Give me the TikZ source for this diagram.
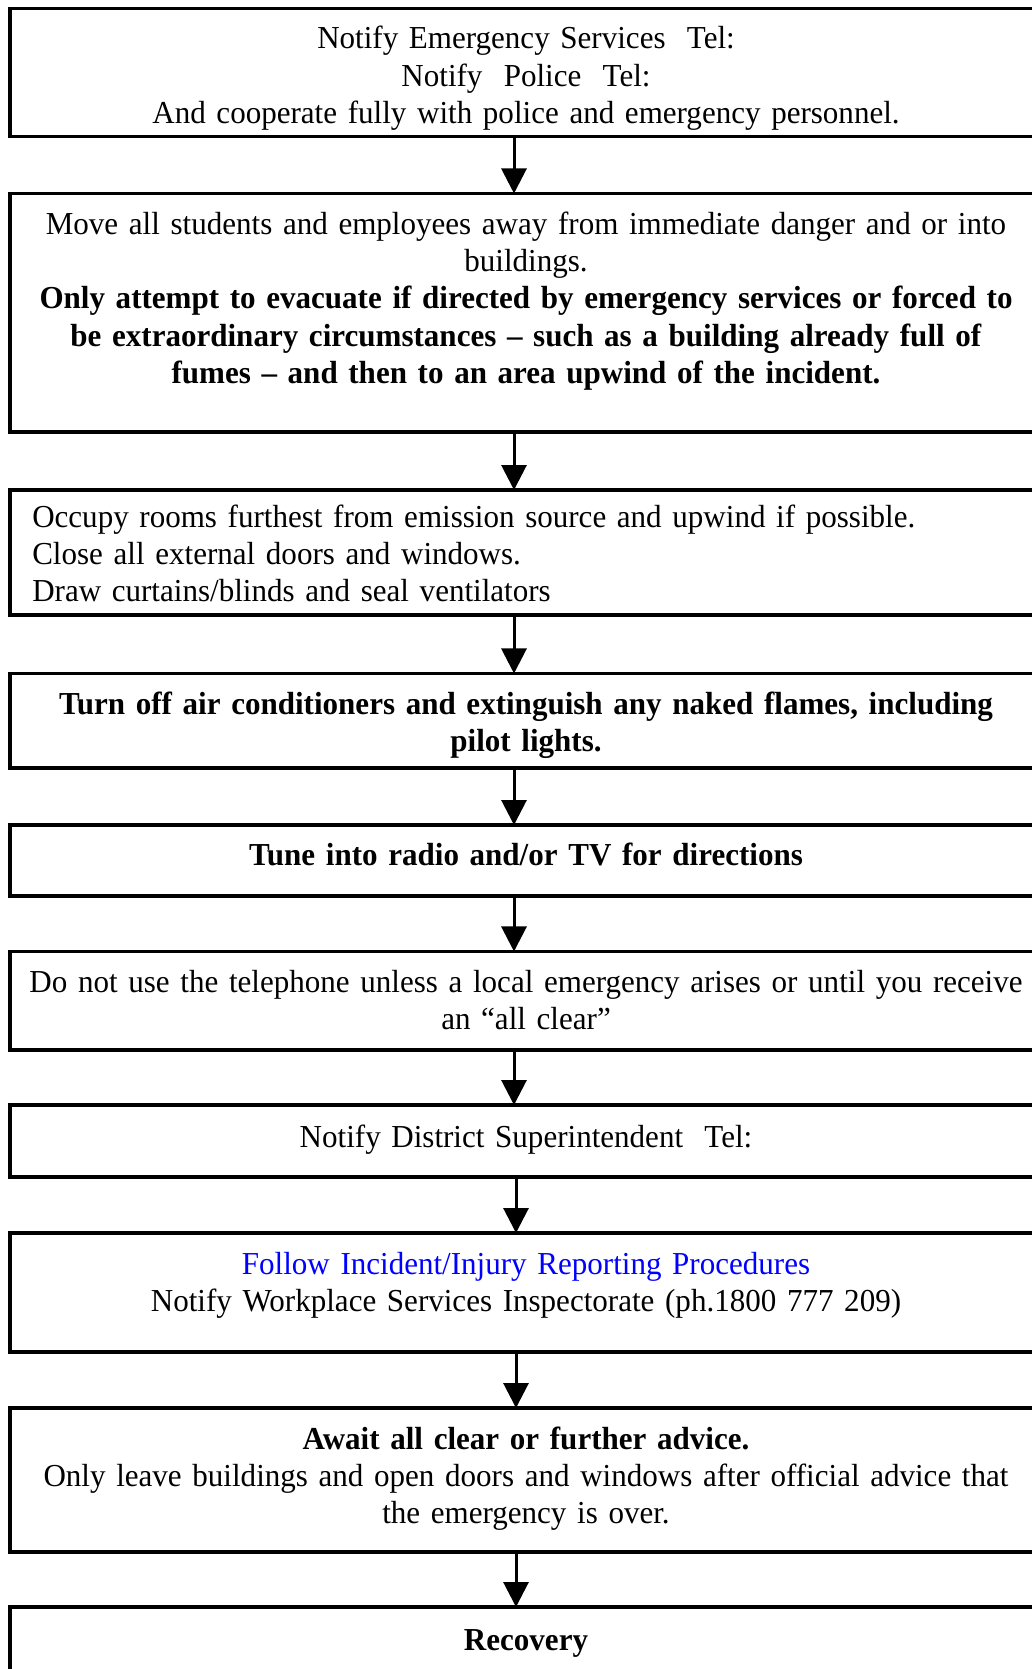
\documentclass[tikz,border=0pt]{standalone}
\usepackage{fontspec}
\setmainfont[FakeStretch=0.97]{Liberation Serif}
\usetikzlibrary{arrows.meta}
\definecolor{linkblue}{RGB}{0,0,255}
\begin{document}
\begin{tikzpicture}[x=0.75pt,y=-0.75pt,
  box/.style={draw, line width=2.5pt, minimum width=772.5pt, inner sep=0pt, outer sep=0pt},
  txt/.style={text width=780pt, align=center, inner sep=0pt, anchor=base,
              font=\fontsize{24}{27.9}\selectfont},
  txtl/.style={txt, align=left, anchor=base west},
  flow/.style={line width=2.25pt, -{Triangle[length=18.75pt,width=18.75pt]}}]

\useasboundingbox (0,0) rectangle (1031,1669);

% step boxes (they run past the right edge of the page)
\node[box, minimum height=96pt]     (b1)  at (525,72.5)   {};
\node[box, minimum height=178.9pt]  (b2)  at (525,312.75) {};
\node[box, minimum height=93.75pt]  (b3)  at (525,552.5)  {};
\node[box, minimum height=70.9pt]   (b4)  at (525,720.75) {};
\node[box, minimum height=53.25pt]  (b5)  at (525,860.5)  {};
\node[box, minimum height=73.9pt]   (b6)  at (525,1000.75){};
\node[box, minimum height=54pt]     (b7)  at (525,1141)   {};
\node[box, minimum height=89.25pt]  (b8)  at (525,1292.5) {};
\node[box, minimum height=108pt]    (b9)  at (525,1480)   {};
\node[box, minimum height=69.75pt]  (b10) at (525,1653.5) {};

% step texts
\begin{scope}
  \clip (0,10) rectangle (1031,135);
  \node[txt] (t1) at (526,49) {Notify Emergency Services\ \ Tel:\\
    Notify\ \ Police\ \ Tel:\\
    And cooperate fully with police and emergency personnel.};
\end{scope}

\node[txt] (t2) at (526,234.5) {Move all students and employees away from immediate danger and or into\\
  buildings.\\
  \textbf{Only attempt to evacuate if directed by emergency services or forced to}\\
  \textbf{be extraordinary circumstances – such as a building already full of}\\
  \textbf{fumes – and then to an area upwind of the incident.}};

\node[txtl] (t3) at (32,527) {Occupy rooms furthest from emission source and upwind if possible.\\
  Close all external doors and windows.\\
  Draw curtains/blinds and seal ventilators};

\node[txt, font=\fontsize{24}{27.9}\selectfont\bfseries] (t4) at (526,714.6)
  {Turn off air conditioners and extinguish any naked flames, including\\ pilot lights.};

\node[txt, font=\fontsize{24}{27.9}\selectfont\bfseries] (t5) at (526,865.7)
  {Tune into radio and/or TV for directions};

\node[txt] (t6) at (526,992.4) {Do not use the telephone unless a local emergency arises or until you receive\\
  an “all clear”};

\node[txt] (t7) at (526,1147.8) {Notify District Superintendent\ \ Tel:};

\node[txt] (t8) at (526,1274.4) {\textcolor{linkblue}{Follow Incident/Injury Reporting Procedures}\\
  Notify Workplace Services Inspectorate (ph.1800 777 209)};

\node[txt] (t9) at (526,1449) {\textbf{Await all clear or further advice.}\\
  Only leave buildings and open doors and windows after official advice that\\
  the emergency is over.};

\node[txt, font=\fontsize{24}{27.9}\selectfont\bfseries] (t10) at (526,1650) {Recovery};

% connectors
\coordinate (ax) at (514,0);
\coordinate (bx) at (516,0);
\draw[flow] (b1.south -| ax) -- (b2.north -| ax);
\draw[flow] (b2.south -| ax) -- (b3.north -| ax);
\draw[flow] (b3.south -| ax) -- (b4.north -| ax);
\draw[flow] (b4.south -| ax) -- (b5.north -| ax);
\draw[flow] (b5.south -| ax) -- (b6.north -| ax);
\draw[flow] (b6.south -| ax) -- (b7.north -| ax);
\draw[flow] (b7.south -| bx) -- (b8.north -| bx);
\draw[flow] (b8.south -| bx) -- (b9.north -| bx);
\draw[flow] (b9.south -| bx) -- (b10.north -| bx);
\end{tikzpicture}
\end{document}
